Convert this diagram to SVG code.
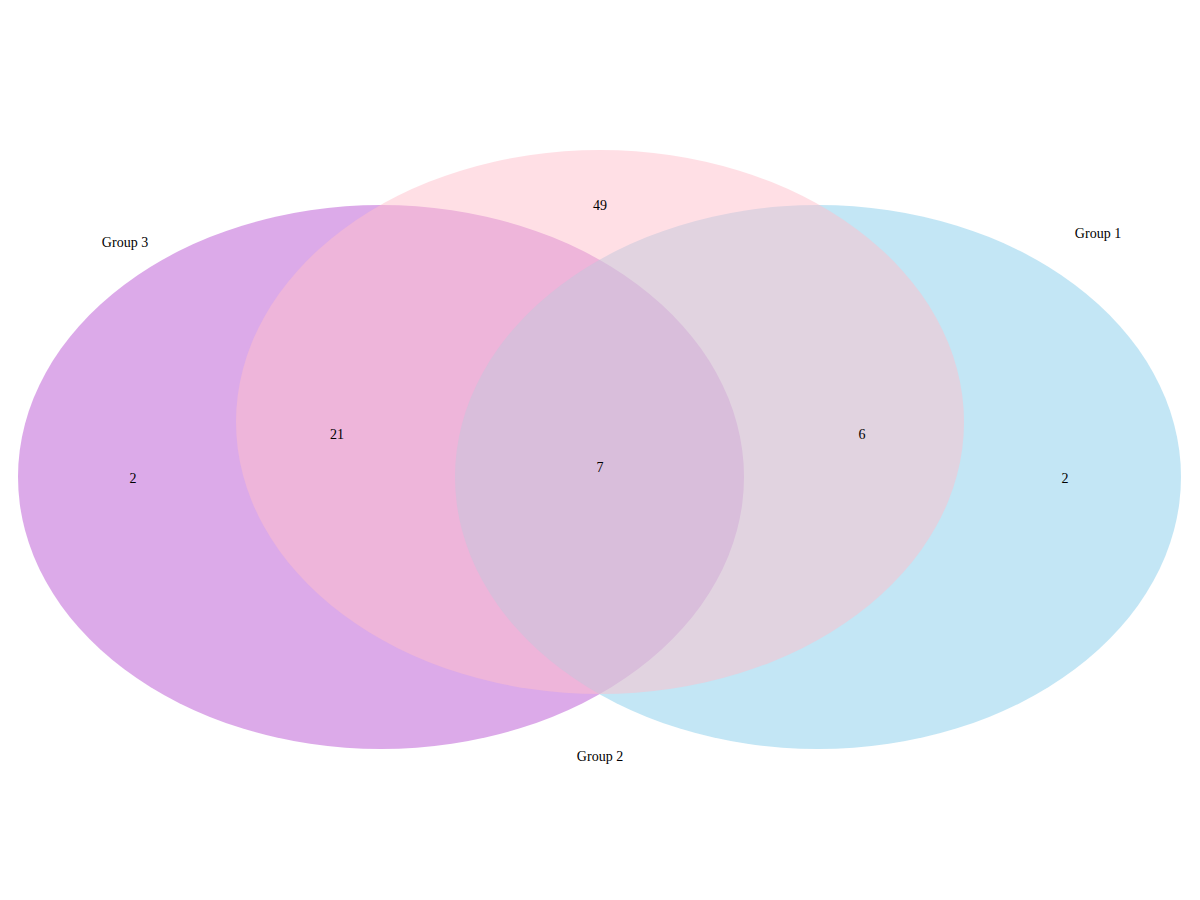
<svg xmlns="http://www.w3.org/2000/svg" width="1200" height="900" viewBox="0 0 1200 900">
<style>
text{font-family:"Liberation Serif","DejaVu Serif",serif;font-size:14px;fill:#000;text-anchor:middle}
.s{opacity:0.5}
</style>
<rect width="1200" height="900" fill="#fff"/>
<g id="group3"><ellipse class="s" cx="381" cy="477" rx="363" ry="272" fill="#BA55D3"/></g>
<g id="group1"><ellipse class="s" cx="818" cy="477" rx="363" ry="272" fill="#87CEEB"/></g>
<g id="group2"><ellipse class="s" cx="600" cy="422" rx="364" ry="272" fill="#FFC0CB"/></g>
<g id="labels">
<text x="600" y="210">49</text>
<text x="337" y="439">21</text>
<text x="600" y="472">7</text>
<text x="862" y="439">6</text>
<text x="133" y="483">2</text>
<text x="1065" y="483">2</text>
<text x="125" y="247">Group 3</text>
<text x="1098" y="238">Group 1</text>
<text x="600" y="761">Group 2</text>
</g>
</svg>
